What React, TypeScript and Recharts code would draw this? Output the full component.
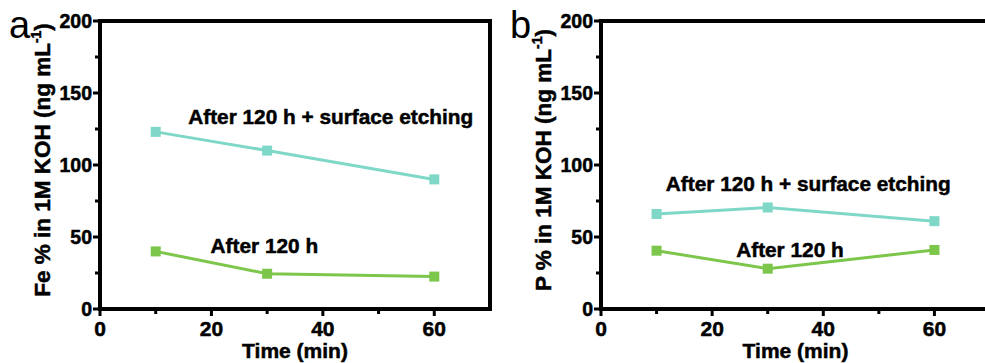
import React from 'react';
import { ComposedChart, Line, XAxis, YAxis, ReferenceLine, ReferenceDot } from 'recharts';

// sampling times (min)
const times = [10, 30, 60];

// panel a: Fe dissolved (ng mL-1)
const feEtched = [123, 110, 90];
const feAfter = [40, 24.5, 22.5];

// panel b: P dissolved (ng mL-1)
const pEtched = [66, 70.5, 61];
const pAfter = [40.5, 28, 41];

const xTicks = [0, 10, 20, 30, 40, 50, 60];
const xMajor = [0, 20, 40, 60];
const yTicks = [0, 25, 50, 75, 100, 125, 150, 175, 200];
const yMajor = [0, 50, 100, 150, 200];

const etchName = 'After 120 h + surface etching';
const plainName = 'After 120 h';

// where the series names sit, in data units
const feNameSpots = [
  { x: 41.4, y: 133, text: etchName },
  { x: 29.5, y: 44, text: plainName },
];
const pNameSpots = [
  { x: 37.3, y: 87, text: etchName },
  { x: 34, y: 41, text: plainName },
];

const TEAL = '#7fd8c7';
const GREEN = '#7cc64b';
const FONT = '"Liberation Sans", Arial, Helvetica, sans-serif';
const INK = { fill: '#000', stroke: '#000', strokeWidth: 0.5 };
const FRAME = 4;

const XTick = ({ x, y, payload }: any) => {
  const major = xMajor.includes(payload.value);
  return (
    <g>
      <line x1={x} x2={x} y1={y} y2={y + (major ? 7 : 5)} stroke="#000" strokeWidth={3} />
      {major && (
        <text x={x} y={y + 27} textAnchor="middle" fontSize={21} fontWeight="bold" {...INK}>
          {payload.value}
        </text>
      )}
    </g>
  );
};

const YTick = ({ x, y, payload }: any) => {
  const major = yMajor.includes(payload.value);
  return (
    <g>
      <line x1={x - (major ? 7 : 5)} x2={x} y1={y} y2={y} stroke="#000" strokeWidth={3} />
      {major && (
        <text x={x - 8} y={y + 7} textAnchor="end" fontSize={19.5} fontWeight="bold" {...INK}>
          {payload.value}
        </text>
      )}
    </g>
  );
};

const squareDot = (color: string) => (props: any) => {
  const { cx, cy, index } = props;
  if (cx == null || cy == null) return <g key={`d-${index}`} />;
  return <rect key={`d-${index}`} x={cx - 5} y={cy - 5} width={10} height={10} fill={color} />;
};

const nameShape = (text: string) => (props: any) => (
  <text x={props.cx} y={props.cy + 7} textAnchor="middle" fontSize={20.8} fontWeight="bold" {...INK}>
    {text}
  </text>
);

interface PanelProps {
  letter: string;
  element: string;
  etched: number[];
  after: number[];
  spots: { x: number; y: number; text: string }[];
  left: number;
  axisWidth: number;
}

const Panel = ({ letter, element, etched, after, spots, left, axisWidth }: PanelProps) => {
  const data = times.map((t, i) => ({ time: t, etched: etched[i], after: after[i] }));
  const labelX = axisWidth - 50;

  const sideLabel = () => (
    <g>
      <text x={axisWidth - 91} y={38} fontSize={38} fill="#000">
        {letter}
      </text>
      <text
        transform={`translate(${labelX},160) rotate(-90)`}
        textAnchor="middle"
        fontSize={22.5}
        fontWeight="bold"
        {...INK}
      >
        {`${element} % in 1M KOH (ng mL`}
        <tspan fontSize={14} dy={-9}>-1</tspan>
        <tspan dy={9}>)</tspan>
      </text>
    </g>
  );

  return (
    <div style={{ position: 'absolute', left, top: 0 }}>
      <ComposedChart
        width={500}
        height={363}
        data={data}
        margin={{ top: 21, right: 10, left: 0, bottom: 0 }}
      >
        <ReferenceLine y={0} stroke="#000" strokeWidth={FRAME} strokeLinecap="square" />
        <ReferenceLine x={0} stroke="#000" strokeWidth={FRAME} strokeLinecap="square" />
        <ReferenceLine y={200} stroke="#000" strokeWidth={FRAME} strokeLinecap="square" />
        <ReferenceLine x={70} stroke="#000" strokeWidth={FRAME} strokeLinecap="square" />
        <XAxis
          dataKey="time"
          type="number"
          domain={[0, 70]}
          ticks={xTicks}
          interval={0}
          height={54}
          tickSize={0}
          tickMargin={0}
          tickLine={false}
          tick={<XTick />}
          axisLine={false}
          label={{
            value: 'Time (min)',
            position: 'insideBottom',
            offset: 5,
            fontSize: 21,
            fontWeight: 'bold',
            ...INK,
          }}
        />
        <YAxis
          type="number"
          domain={[0, 200]}
          ticks={yTicks}
          interval={0}
          width={axisWidth}
          tickSize={0}
          tickMargin={0}
          tickLine={false}
          tick={<YTick />}
          axisLine={false}
          label={sideLabel}
        />
        <Line
          dataKey="etched"
          stroke={TEAL}
          strokeWidth={3}
          dot={squareDot(TEAL)}
          activeDot={false}
          isAnimationActive={false}
        />
        <Line
          dataKey="after"
          stroke={GREEN}
          strokeWidth={3}
          dot={squareDot(GREEN)}
          activeDot={false}
          isAnimationActive={false}
        />
        {spots.map((s) => (
          <ReferenceDot key={s.text} x={s.x} y={s.y} r={0} shape={nameShape(s.text)} />
        ))}
      </ComposedChart>
    </div>
  );
};

export default function App() {
  return (
    <div
      style={{
        position: 'fixed',
        left: 0,
        top: 0,
        width: 985,
        height: 363,
        overflow: 'hidden',
        background: '#fff',
        fontFamily: FONT,
      }}
    >
      <Panel letter="a" element="Fe" etched={feEtched} after={feAfter} spots={feNameSpots} left={0} axisWidth={100} />
      <Panel letter="b" element="P" etched={pEtched} after={pAfter} spots={pNameSpots} left={500} axisWidth={101} />
    </div>
  );
}
